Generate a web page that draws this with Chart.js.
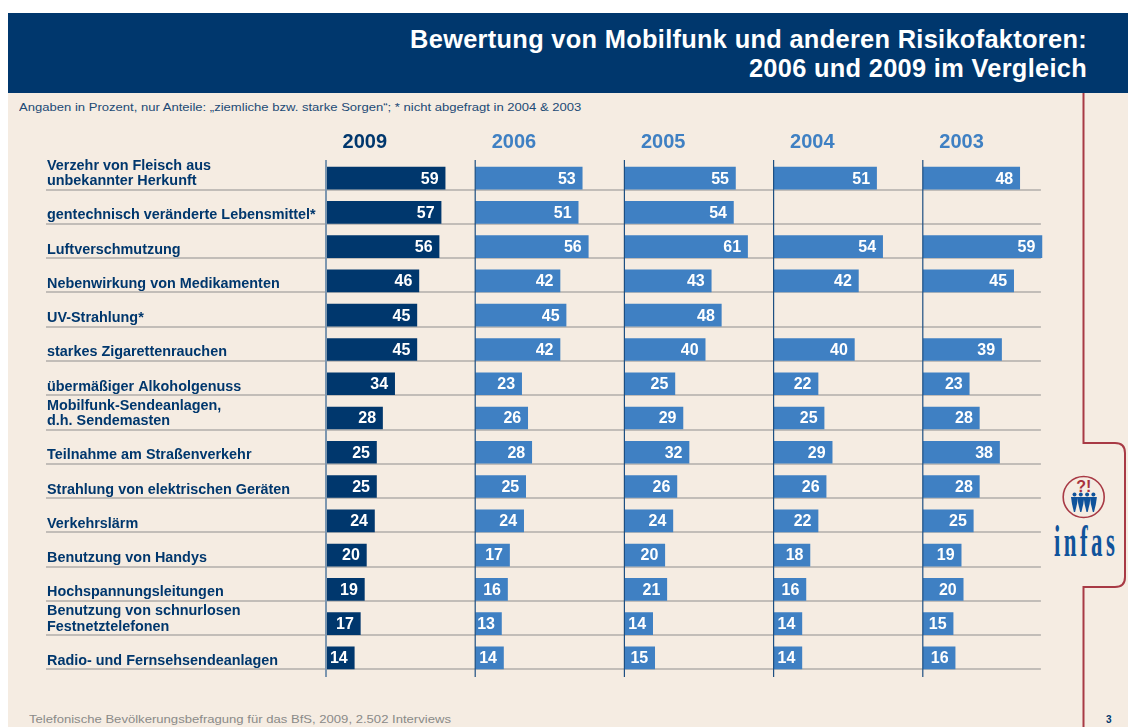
<!DOCTYPE html>
<html lang="de"><head><meta charset="utf-8">
<script src="https://cdn.jsdelivr.net/npm/chart.js@4/dist/chart.umd.min.js"></script>
<style>
html,body{margin:0;padding:0;width:1128px;height:727px;overflow:hidden;background:#fff;font-family:"Liberation Sans",Arial,sans-serif}
#bg{position:absolute;left:8px;top:13px;width:1120px;height:714px;background:#f5ece2}
#head{position:absolute;left:8px;top:13px;width:1120px;height:80px;background:#00376d}
#title{position:absolute;right:41px;top:25px;width:800px;text-align:right;color:#fff;font:bold 25.4px/29px "Liberation Sans",Arial,sans-serif;letter-spacing:.3px;margin:0}
#sub{position:absolute;left:19px;top:100px;font-size:11.5px;line-height:14px;color:#1c4a75;white-space:nowrap;transform:scaleX(1.135);transform-origin:left}
#foot{position:absolute;left:29px;top:712px;font-size:11.5px;line-height:14px;color:#8a8a88;white-space:nowrap;transform:scaleX(1.138);transform-origin:left}
#page{position:absolute;left:1106px;top:713px;font-size:10px;line-height:13px;font-weight:bold;color:#00376d}
#deco{position:absolute;left:0;top:0}
canvas{position:absolute;left:0;top:0}
</style></head><body>
<div id="bg"></div>
<svg id="deco" width="1128" height="727">
<path d="M1083.5 93V443H1115Q1125 443 1125 453V577Q1125 587 1115 587H1083.5V727" fill="none" stroke="#a83a45" stroke-width="2"/>
<circle cx="1083.7" cy="497" r="20.500" fill="none" stroke="#a83a45" stroke-width="1.6"/>
<text x="1083.7" y="492" text-anchor="middle" font-family="Liberation Sans" font-weight="bold" font-size="16" fill="#a8323c">?!</text>
<g fill="#10539b">
<g id="pp"><circle cx="1074.500" cy="494.500" r="2"/><path d="M1071 497h7l-1 7-1.900 8h-1.200l-1.900-8z"/></g>
<use href="#pp" x="6.300"/><use href="#pp" x="12.600"/><use href="#pp" x="18.900"/>
</g>
<text transform="translate(1054 556) scale(.52 1)" font-family="Liberation Sans Narrow" font-weight="bold" font-size="44" fill="#10539b" textLength="117" lengthAdjust="spacing">infas</text>
</svg>
<div id="head"></div>
<h1 id="title">Bewertung von Mobilfunk und anderen Risikofaktoren:<br>2006 und 2009 im Vergleich</h1>
<div id="sub">Angaben in Prozent, nur Anteile: „ziemliche bzw. starke Sorgen“; * nicht abgefragt in 2004 &amp; 2003</div>
<div id="foot">Telefonische Bevölkerungsbefragung für das BfS, 2009, 2.502 Interviews</div>
<div id="page">3</div>
<canvas id="c" width="1128" height="727"></canvas>
<script>
const categories = [
  ['Verzehr von Fleisch aus','unbekannter Herkunft'],
  'gentechnisch veränderte Lebensmittel*',
  'Luftverschmutzung',
  'Nebenwirkung von Medikamenten',
  'UV-Strahlung*',
  'starkes Zigarettenrauchen',
  'übermäßiger Alkoholgenuss',
  ['Mobilfunk-Sendeanlagen,','d.h. Sendemasten'],
  'Teilnahme am Straßenverkehr',
  'Strahlung von elektrischen Geräten',
  'Verkehrslärm',
  'Benutzung von Handys',
  'Hochspannungsleitungen',
  ['Benutzung von schnurlosen','Festnetztelefonen'],
  'Radio- und Fernsehsendeanlagen'
];
const years = ['2009','2006','2005','2004','2003'];
const v2009 = [59,57,56,46,45,45,34,28,25,25,24,20,19,17,14];
const v2006 = [53,51,56,42,45,42,23,26,28,25,24,17,16,13,14];
const v2005 = [55,54,61,43,48,40,25,29,32,26,24,20,21,14,15];
const v2004 = [51,null,54,42,null,40,22,25,29,26,22,18,16,14,14];
const v2003 = [48,null,59,45,null,39,23,28,38,28,25,19,20,15,16];
const allValues = [v2009,v2006,v2005,v2004,v2003];

const NAVY='#00376d', BLUE='#3f80c3', LINE='#b1aeaa';
const FONT='"Liberation Sans", Arial, sans-serif';
const AXIS_MAX = 73.9;

const scales = {
  y:{type:'category',position:'left',offset:true,
     grid:{display:false},border:{display:false},
     afterFit(s){s.width=279;},
     ticks:{crossAlign:'far',padding:0,labelOffset:3,autoSkip:false,color:NAVY,
       font:{family:FONT,size:14.4,weight:'bold',lineHeight:1.05},
       callback(v){const l=this.getLabelForValue(v);return Array.isArray(l)?[...l,'']:l;}}}
};
years.forEach((yr,i)=>{
  scales['x'+i]={type:'linear',position:'top',stack:'panels',stackWeight:1,weight:-i,min:0,max:AXIS_MAX,
    grid:{display:false},border:{display:false},
    afterBuildTicks(s){s.ticks=[{value:19.2}];},
    afterFit(s){s.height=45;},
    ticks:{autoSkip:false,maxRotation:0,padding:-1,color:i===0?NAVY:BLUE,
      font:{family:FONT,size:20,weight:'bold'},callback(){return yr;}}};
});

const panelRules={id:'panelRules',
  beforeDatasetsDraw(ch){
    const c=ch.ctx,y=ch.scales.y;
    c.save();c.strokeStyle=LINE;c.lineWidth=1.4;
    categories.forEach((_,i)=>{
      const p=Math.round(y.getPixelForValue(i)+11.5);
      c.beginPath();c.moveTo(46,p);c.lineTo(ch.scales.x4.getPixelForValue(58.5),p);c.stroke();
    });
    c.restore();
  },
  afterDatasetsDraw(ch){
    const c=ch.ctx,a=ch.chartArea;
    c.save();
    years.forEach((_,i)=>{
      const x=ch.scales['x'+i].getPixelForValue(0);
      c.strokeStyle=i===0?'#7c96af':'#1d4f82';c.lineWidth=i===0?2:1.2;
      c.beginPath();c.moveTo(x,a.top-1);c.lineTo(x,a.bottom+2);c.stroke();
    });
    c.fillStyle='#fff';c.font='bold 16px '+FONT;c.textAlign='right';c.textBaseline='middle';
    ch.data.datasets.forEach((ds,i)=>{
      ch.getDatasetMeta(i).data.forEach((el,j)=>{
        if(ds.data[j]==null)return;
        c.fillText(String(ds.data[j]),el.x-6.500,el.y+1);
      });
    });
    c.restore();
  }
};

new Chart(document.getElementById('c'),{
  type:'bar',
  data:{labels:categories,datasets:years.map((yr,i)=>({
    label:yr,data:allValues[i],xAxisID:'x'+i,yAxisID:'y',grouped:false,
    backgroundColor:i===0?NAVY:BLUE,borderWidth:0,barThickness:22
  }))},
  options:{indexAxis:'y',responsive:false,animation:false,
    layout:{padding:{left:47,top:116,right:56,bottom:52}},
    plugins:{legend:{display:false},tooltip:{enabled:false},title:{display:false}},
    scales},
  plugins:[panelRules]
});
</script>
</body></html>
